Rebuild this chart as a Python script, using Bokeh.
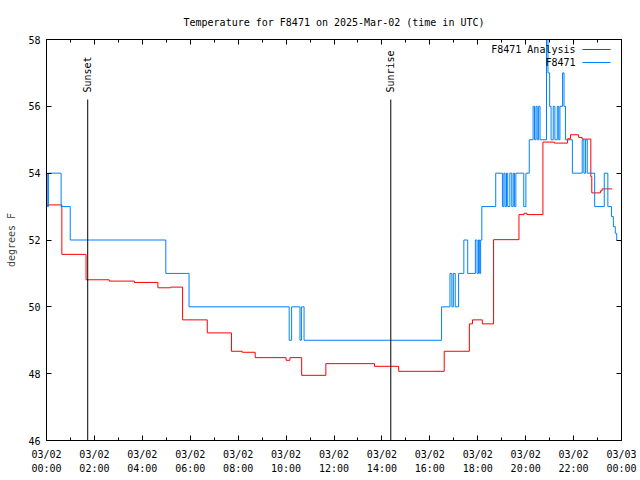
from math import pi
from bokeh.plotting import figure
from bokeh.models import (Range1d, FixedTicker, LinearAxis, CustomJSTickFormatter,
                          Label, ColumnDataSource)
from bokeh.core.properties import value
from bokeh.embed import file_html
from bokeh.resources import INLINE

FONT = "DejaVu Sans Mono"

# ---- data ----
title_text = "Temperature for F8471 on 2025-Mar-02 (time in UTC)"
series_names = ["F8471 Analysis", "F8471"]
series_colors = ["#ff0000", "#0080ff"]

obs_hours = [0.00, 0.03, 0.08, 0.61, 0.99, 4.98, 5.95, 10.13, 10.23, 10.58, 10.64, 10.75,
             16.49, 16.84, 16.92, 16.98, 17.06, 17.20, 17.42, 17.58, 17.90, 17.97, 18.03,
             18.08, 18.12, 18.17, 18.75, 19.03, 19.09, 19.14, 19.20, 19.25, 19.34, 19.42,
             19.48, 19.53, 19.59, 19.92, 20.01, 20.15, 20.31, 20.37, 20.43, 20.48, 20.54,
             20.60, 20.87, 20.93, 21.00, 21.06, 21.15, 21.22, 21.32, 21.38, 21.43, 21.54,
             21.60, 21.66, 21.95, 22.36, 22.43, 22.50, 22.57, 22.88, 23.28, 23.43, 23.58,
             23.66, 23.74, 23.80, 23.82]
obs_temps = [54, 53, 54, 53, 52, 51, 50, 49, 50, 49, 50, 49,
             50, 51, 50, 51, 50, 51, 52, 51, 52, 51, 52,
             51, 52, 53, 54, 53, 54, 53, 54, 53, 54, 53,
             54, 53, 54, 53, 54, 55, 56, 55, 56, 55, 56,
             55, 58, 57, 56, 55, 56, 55, 56, 55, 56, 57,
             56, 55, 54, 55, 54, 55, 54, 53, 54, 53, 52.7,
             52.4, 52.2, 52.0, 52.0]

ana_hours = [0.00, 0.64, 1.65, 2.62, 3.67, 4.65, 5.18, 5.68, 6.71, 7.72, 8.17, 8.71,
             10.00, 10.16, 10.65, 11.66, 13.69, 14.70, 16.60, 17.65, 17.78, 18.19, 18.66,
             19.72, 19.93, 20.05, 20.72, 21.20, 21.75, 21.87, 22.21, 22.36, 22.72, 22.76,
             23.12, 23.19, 23.61]
ana_temps = [53.05, 51.57, 50.81, 50.77, 50.73, 50.57, 50.59, 49.61, 49.22, 48.67, 48.64, 48.48,
             48.40, 48.48, 47.95, 48.30, 48.22, 48.07, 48.67, 49.49, 49.61, 49.49, 52.01,
             52.76, 52.80, 52.76, 54.93, 54.90, 55.03, 55.15, 55.07, 55.02, 53.90, 53.41,
             53.47, 53.53, 53.53]

sun_hours = [1.72, 14.37]
sun_labels = ["Sunset", "Sunrise"]

x_tick_hours = [0, 2, 4, 6, 8, 10, 12, 14, 16, 18, 20, 22, 24]
x_tick_labels = ["03/02\n00:00", "03/02\n02:00", "03/02\n04:00", "03/02\n06:00",
                 "03/02\n08:00", "03/02\n10:00", "03/02\n12:00", "03/02\n14:00",
                 "03/02\n16:00", "03/02\n18:00", "03/02\n20:00", "03/02\n22:00",
                 "03/03\n00:00"]
x_minor_hours = [1, 3, 5, 7, 9, 11, 13, 15, 17, 19, 21, 23]
y_ticks = [46, 48, 50, 52, 54, 56, 58]
y_label = "degrees F"

# ---- layout constants (pixels) ----
W, H = 640, 480
FL, FR, FT, FB = 46, 621, 39, 440       # frame edges
X0, X1, Y0, Y1 = 0, 24, 46, 58          # axis ranges
KEY_TEXT_RIGHT = 575
KEY_LINE_L, KEY_LINE_R = 582, 610
KEY_ROWS = [49, 62]
SUN_LINE_TOP = 99
SUN_TEXT_BOTTOM = 92

def px_to_x(px):
    return X0 + (px - FL) * (X1 - X0) / (FR - FL)

def py_to_y(py):
    return Y1 - (py - FT) * (Y1 - Y0) / (FB - FT)

# ---- figure ----
p = figure(width=W, height=H, output_backend="svg", toolbar_location=None,
           x_range=Range1d(X0, X1), y_range=Range1d(Y0, Y1),
           min_border_left=FL, min_border_right=W - FR, min_border_top=FT,
           min_border_bottom=H - FB,
           background_fill_color="white", border_fill_color="white")
p.xgrid.visible = False
p.ygrid.visible = False
p.outline_line_color = "black"
p.outline_line_width = 1

p.title.text = title_text
p.title.align = "center"
p.title.text_font = FONT
p.title.text_font_size = "10px"
p.title.text_font_style = "normal"
p.title.text_color = "black"
p.title.standoff = 24

xt = FixedTicker(ticks=x_tick_hours, minor_ticks=x_minor_hours)
yt = FixedTicker(ticks=y_ticks, minor_ticks=[])

def style_axis(ax, ticker):
    ax.ticker = ticker
    ax.axis_line_color = "black"
    ax.major_tick_in = 5
    ax.major_tick_out = 0
    ax.minor_tick_in = 3
    ax.minor_tick_out = 0
    ax.major_tick_line_color = "black"
    ax.minor_tick_line_color = "black"
    ax.major_label_text_font = FONT
    ax.major_label_text_font_size = "10px"
    ax.major_label_text_color = "black"

style_axis(p.xaxis[0], xt)
p.xaxis[0].major_label_overrides = dict(zip(x_tick_hours, x_tick_labels))
p.xaxis[0].major_label_standoff = 8
p.xaxis[0].major_label_text_line_height = 1.3

style_axis(p.yaxis[0], yt)
p.yaxis[0].minor_tick_line_color = None
p.yaxis[0].major_label_standoff = 6
p.yaxis[0].axis_label = y_label
p.yaxis[0].axis_label_text_font = FONT
p.yaxis[0].axis_label_text_font_size = "10px"
p.yaxis[0].axis_label_text_font_style = "normal"
p.yaxis[0].axis_label_standoff = 8

blank = CustomJSTickFormatter(code="return ''")
top_ax = LinearAxis()
style_axis(top_ax, xt)
top_ax.formatter = blank
top_ax.major_label_standoff = 0
p.add_layout(top_ax, "above")

right_ax = LinearAxis()
style_axis(right_ax, yt)
right_ax.minor_tick_line_color = None
right_ax.formatter = blank
right_ax.major_label_standoff = 0
p.add_layout(right_ax, "right")

# ---- data lines ----
p.step(x=ana_hours, y=ana_temps, mode="after", line_color=series_colors[0], line_width=1)
p.step(x=obs_hours, y=obs_temps, mode="after", line_color=series_colors[1], line_width=1)

# ---- sunset / sunrise markers ----
n_sun = len(sun_hours)
sun_src = ColumnDataSource(dict(x=sun_hours, label=sun_labels,
                                top=[py_to_y(SUN_LINE_TOP)] * n_sun,
                                bottom=[Y0] * n_sun,
                                ty=[py_to_y(SUN_TEXT_BOTTOM)] * n_sun))
p.segment(x0="x", y0="top", x1="x", y1="bottom", source=sun_src,
          line_color="black", line_width=1)
p.text(x="x", y="ty", text="label", source=sun_src, angle=pi / 2, text_align="left",
       text_baseline="middle", text_font=value(FONT), text_font_size="10px",
       text_color="black")

# ---- key (gnuplot style: text, then line sample) ----
for name, color, row in zip(series_names, series_colors, KEY_ROWS):
    p.add_layout(Label(x=px_to_x(KEY_TEXT_RIGHT), y=py_to_y(row), text=name,
                       text_align="right", text_baseline="middle",
                       text_font=FONT, text_font_size="10px", text_color="black"))
    p.segment(x0=[px_to_x(KEY_LINE_L)], y0=[py_to_y(row)],
              x1=[px_to_x(KEY_LINE_R)], y1=[py_to_y(row)],
              line_color=color, line_width=1)

open("out.html", "w").write(file_html(p, INLINE))
